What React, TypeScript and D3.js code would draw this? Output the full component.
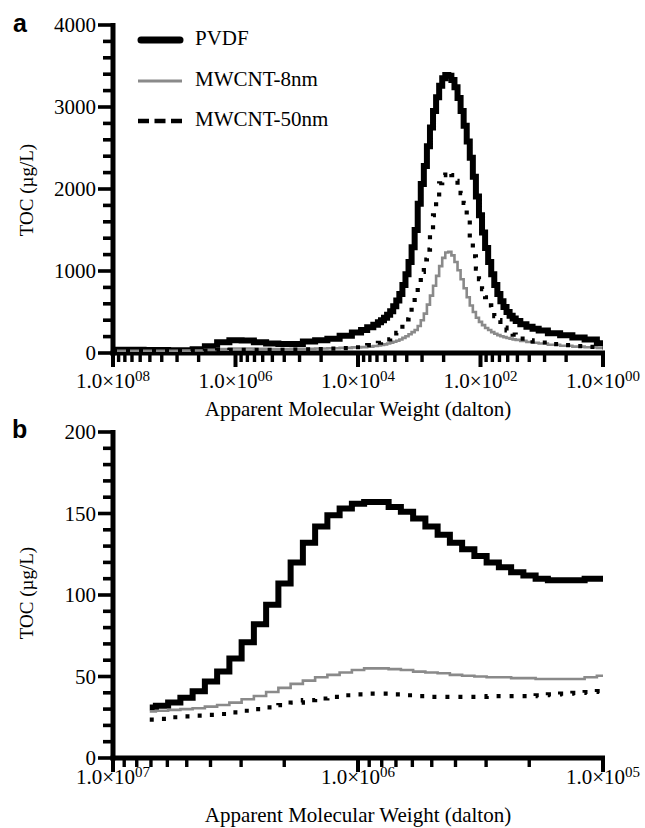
import React, { useEffect, useRef } from 'react';
import * as d3 from 'd3';

// panel a: log10 of apparent molecular weight (dalton), 1e8 -> 1e0
const logMwA = [
  8.0, 7.8, 7.6, 7.4, 7.2, 7.0, 6.8, 6.6, 6.4, 6.2, 6.0, 5.8, 5.6, 5.4, 5.2, 5.0, 4.8, 4.6, 4.4, 4.2, 4.0,
  3.9, 3.8, 3.7,
  3.65, 3.6, 3.55, 3.5, 3.45, 3.4, 3.35, 3.3, 3.25, 3.2,
  3.15, 3.1, 3.05, 3.0, 2.95, 2.9, 2.85, 2.8, 2.75, 2.7,
  2.65, 2.6, 2.55, 2.5, 2.45, 2.4, 2.35, 2.3, 2.25, 2.2,
  2.15, 2.1, 2.05, 2.0, 1.95, 1.9, 1.85, 1.8, 1.75, 1.7,
  1.65, 1.6, 1.55, 1.5, 1.45, 1.4,
  1.3, 1.2, 1.1, 1.0,
  0.8, 0.6, 0.4, 0.2, 0.0,
];
const pvdfA = [
  40, 40, 40, 38, 36, 34, 33, 47, 82, 132, 156, 151, 132, 117, 109, 110, 140, 155, 175, 210, 250,
  280, 315, 345,
  375, 400, 430, 465, 510, 570, 640, 720, 830, 960,
  1110, 1290, 1500, 1820, 2060, 2280, 2520, 2750, 2950, 3120,
  3260, 3350, 3390, 3380, 3330, 3240, 3110, 2950, 2770, 2580,
  2380, 2150, 1910, 1680, 1470, 1280, 1110, 960, 830, 720,
  630, 560, 500, 455, 420, 390,
  350, 320, 295, 275,
  240, 215, 190, 165, 120,
];
const cnt8A = [
  28, 28, 28, 28, 28, 28, 29, 31, 38, 47, 54, 54, 51, 49, 48.5, 50, 52, 55, 58, 62, 68,
  72, 78, 85,
  92, 97, 105, 115, 126, 138, 150, 165, 185, 205,
  228, 255, 280, 330, 400, 480, 590, 700, 820, 940,
  1060, 1160, 1225, 1235, 1190, 1110, 1010, 900, 790, 680,
  580, 500, 430, 380, 340, 305, 280, 255, 235, 218,
  205, 193, 183, 175, 166, 160,
  148, 135, 125, 115,
  100, 88, 78, 70, 62,
];
const cnt50A = [
  24, 24, 24, 24, 24, 24, 24, 26, 30, 35.5, 39, 38.5, 37.5, 38, 39, 41, 44, 48, 53, 60, 70,
  82, 95, 110,
  125, 138, 150, 165, 185, 210, 245, 290, 350, 410,
  470, 560, 680, 830, 990, 1140, 1260, 1460, 1680, 1900,
  2070, 2170, 2210, 2210, 2170, 2100, 2020, 1950, 1830, 1640,
  1400, 1180, 1030, 900, 780, 680, 580, 510, 450, 400,
  350, 310, 275, 245, 225, 205,
  175, 155, 140, 128,
  108, 95, 85, 75, 65,
];

// panel b: zoom on 1e7 -> 1e5
const logMwB = [
  6.85, 6.8, 6.75, 6.7, 6.65, 6.6, 6.55, 6.5, 6.45, 6.4,
  6.35, 6.3, 6.25, 6.2, 6.15, 6.1, 6.05, 6.0, 5.95, 5.9,
  5.85, 5.8, 5.75, 5.7, 5.65, 5.6, 5.55, 5.5, 5.45, 5.4,
  5.35, 5.3, 5.25, 5.2, 5.15, 5.1, 5.05, 5.0,
];
const pvdfB = [
  31, 32, 34, 37, 41, 47, 53, 61, 71, 82,
  94, 107, 120, 132, 142, 149, 153, 156, 157, 157,
  154, 151, 147, 142, 137, 132, 128, 124, 120, 117,
  114, 112, 110, 109, 109, 109, 110, 110,
];
const cnt8B = [
  28.5, 29, 29.5, 30, 30.5, 31.5, 32.5, 34, 36, 38,
  40.5, 43, 45.5, 47.5, 49.5, 51, 52.5, 54, 55, 55,
  54.5, 54, 53, 52.5, 52, 51, 50.5, 50, 49.5, 49.5,
  49, 49, 48.5, 48.5, 48.5, 48.5, 49.5, 50.5,
];
const cnt50B = [
  23.5, 24, 25, 25.5, 26, 26.5, 27, 28, 29, 30,
  31, 32.5, 34, 35.5, 36.5, 37.5, 38.5, 39, 39.5, 39.5,
  39, 38.5, 38, 37.5, 37.5, 37.5, 37.5, 37.5, 38, 38,
  38, 38, 38.5, 39, 39.5, 40, 40.5, 41,
];

const seriesNames = ['PVDF', 'MWCNT-8nm', 'MWCNT-50nm'];
const yTicksA = [0, 1000, 2000, 3000, 4000];
const yTicksB = [0, 50, 100, 150, 200];
const xMajorA = [8, 6, 4, 2, 0];
const xMajorB = [7, 6, 5];

const serif = '"Liberation Serif", "Times New Roman", serif';
const lineStyles = [
  { color: '#000', width: 6, dash: null },
  { color: '#8a8a8a', width: 2.6, dash: null },
  { color: '#000', width: 4.2, dash: '4,9' },
];

function drawPanel(svg, cfg) {
  const { left, right, top, bottom, xMax, xMin, yMax, yMinor, yTicks, xMajor, minorK2, series, logs } = cfg;
  const x = d3.scaleLog().domain([10 ** xMax, 10 ** xMin]).range([left, right]);
  const y = d3.scaleLinear().domain([0, yMax]).range([bottom, top]);
  const g = svg.append('g');

  // y ticks
  d3.range(0, yMax + 1e-9, yMinor).forEach((v) => {
    const major = yTicks.includes(v);
    g.append('line')
      .attr('x1', left - (major ? 15 : 10)).attr('x2', left)
      .attr('y1', y(v)).attr('y2', y(v))
      .attr('stroke', '#000').attr('stroke-width', 3.6);
  });
  g.selectAll('.ylab').data(yTicks).join('text')
    .attr('x', left - 17).attr('y', (d) => y(d)).attr('dy', '0.35em')
    .attr('text-anchor', 'end').attr('font-family', serif).attr('font-size', 21)
    .text((d) => d);

  // x ticks (log, reversed)
  const minors = [];
  xMajor.slice(0, -1).forEach((e) => {
    d3.range(2, 10).forEach((k) => {
      minors.push(minorK2 ? 10 ** (e - 2) * k * k : 10 ** (e - 1) * k);
    });
  });
  minors.forEach((v) => {
    g.append('line')
      .attr('x1', x(v)).attr('x2', x(v)).attr('y1', bottom).attr('y2', bottom + 9)
      .attr('stroke', '#000').attr('stroke-width', 3.4);
  });
  xMajor.forEach((e) => {
    g.append('line')
      .attr('x1', x(10 ** e)).attr('x2', x(10 ** e)).attr('y1', bottom).attr('y2', bottom + 14)
      .attr('stroke', '#000').attr('stroke-width', 4);
    const t = g.append('text')
      .attr('x', x(10 ** e)).attr('y', cfg.tickLabelY)
      .attr('text-anchor', 'middle').attr('font-family', serif).attr('font-size', 21);
    t.append('tspan').text('1.0×10');
    t.append('tspan').attr('font-size', 15).attr('dy', -7).text(String(e).padStart(2, '0'));
  });

  // axis lines
  g.append('line').attr('x1', left).attr('x2', left).attr('y1', top - 2).attr('y2', bottom + 2.5)
    .attr('stroke', '#000').attr('stroke-width', 5);
  g.append('line').attr('x1', left - 2.5).attr('x2', right + 2).attr('y1', bottom).attr('y2', bottom)
    .attr('stroke', '#000').attr('stroke-width', 5);

  // curves
  const line = d3.line()
    .x((d) => x(10 ** d[0]))
    .y((d) => y(d[1]))
    .curve(d3.curveStep);
  series.forEach((vals, i) => {
    const s = lineStyles[i];
    g.append('path')
      .attr('d', line(logs.map((l, j) => [l, vals[j]])))
      .attr('fill', 'none')
      .attr('stroke', s.color)
      .attr('stroke-width', s.width)
      .attr('stroke-dasharray', s.dash)
      .attr('stroke-linejoin', 'miter');
  });

  // titles
  g.append('text')
    .attr('x', (left + right) / 2).attr('y', cfg.titleY)
    .attr('text-anchor', 'middle').attr('font-family', serif).attr('font-size', 21)
    .text('Apparent Molecular Weight (dalton)');
  g.append('text')
    .attr('transform', `translate(33,${cfg.yTitleY}) rotate(-90)`)
    .attr('text-anchor', 'middle').attr('font-family', serif).attr('font-size', 19)
    .text('TOC (µg/L)');
  g.append('text')
    .attr('x', cfg.letterX).attr('y', cfg.letterY)
    .attr('font-family', '"Liberation Sans", Arial, sans-serif').attr('font-weight', 'bold').attr('font-size', 25)
    .text(cfg.letter);
}

function drawLegend(svg) {
  const rows = [40, 81, 121];
  const lg = svg.append('g');
  seriesNames.forEach((name, i) => {
    const s = lineStyles[i];
    lg.append('line')
      .attr('x1', i === 0 ? 141 : 138).attr('x2', i === 0 ? 180 : 182)
      .attr('y1', rows[i]).attr('y2', rows[i])
      .attr('stroke', s.color)
      .attr('stroke-width', i === 0 ? 7 : i === 1 ? 3 : 4.5)
      .attr('stroke-linecap', i === 0 ? 'round' : 'butt')
      .attr('stroke-dasharray', i === 2 ? '11,5.5' : null);
    lg.append('text')
      .attr('x', 195).attr('y', rows[i] - 2).attr('dy', '0.35em')
      .attr('font-family', serif).attr('font-size', 21)
      .text(name);
  });
}

export default function App() {
  const ref = useRef(null);
  useEffect(() => {
    const svg = d3.select(ref.current);
    svg.selectAll('*').remove();
    drawPanel(svg, {
      left: 113, right: 603, top: 25, bottom: 353,
      xMax: 8, xMin: 0, yMax: 4000, yMinor: 200, yTicks: yTicksA, xMajor: xMajorA, minorK2: true,
      logs: logMwA, series: [pvdfA, cnt8A, cnt50A],
      tickLabelY: 388, titleY: 416, yTitleY: 190, letter: 'a', letterX: 13, letterY: 32,
    });
    drawPanel(svg, {
      left: 113, right: 603, top: 432, bottom: 758,
      xMax: 7, xMin: 5, yMax: 200, yMinor: 10, yTicks: yTicksB, xMajor: xMajorB, minorK2: false,
      logs: logMwB, series: [pvdfB, cnt8B, cnt50B],
      tickLabelY: 784, titleY: 822, yTitleY: 593, letter: 'b', letterX: 12, letterY: 438,
    });
    drawLegend(svg);
  }, []);
  return (
    <svg
      ref={ref}
      width={645}
      height={828}
      style={{ position: 'absolute', left: 0, top: 0, background: '#fff' }}
    />
  );
}
